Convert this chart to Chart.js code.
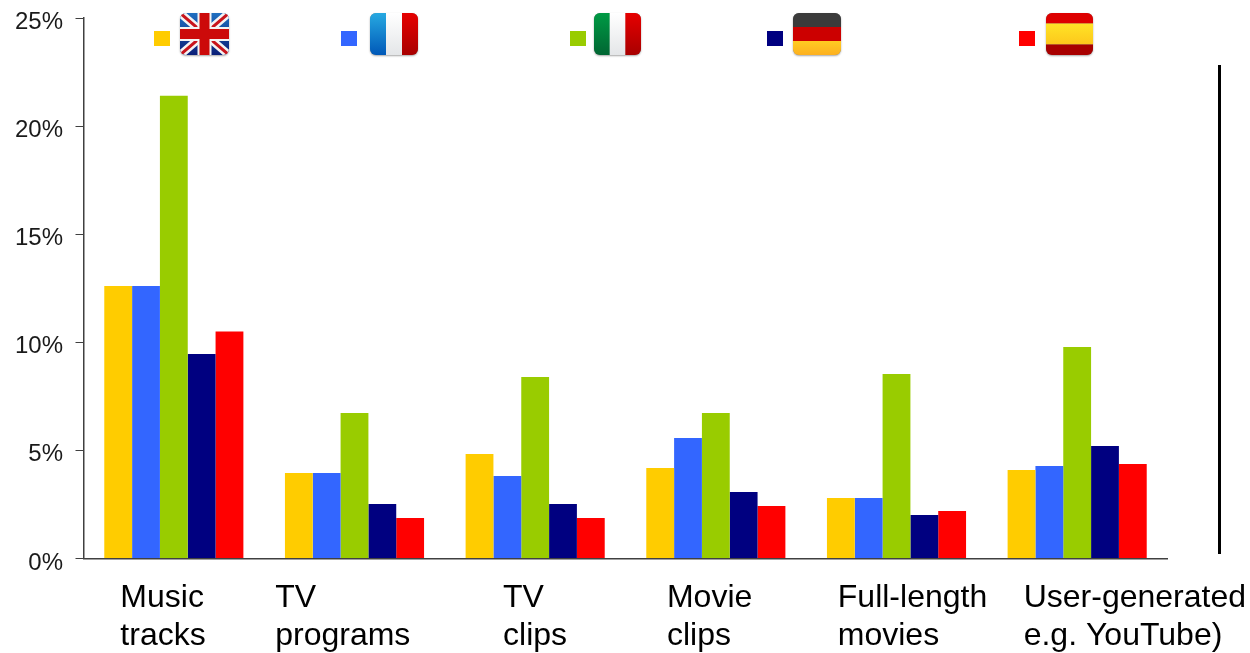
<!DOCTYPE html>
<html lang="en">
<head>
<meta charset="UTF-8">
<title>Online media by country</title>
<script src="https://cdn.jsdelivr.net/npm/chart.js"></script>
<style>
  html, body { margin: 0; padding: 0; background: #fff; }
  canvas { display: block; }
</style>
</head>
<body>
<canvas id="myChart" width="1250" height="653"></canvas>
<script>
// values, in percent
var categories = [['Music', 'tracks'], ['TV', 'programs'], ['TV', 'clips'], ['Movie', 'clips'], ['Full-length', 'movies'], ['User-generated', 'e.g. YouTube)']];
var uk = [12.6, 3.95, 4.83, 4.19, 2.8, 4.09];
var france = [12.6, 3.95, 3.82, 5.57, 2.8, 4.28];
var italy = [21.4, 6.73, 8.4, 6.73, 8.53, 9.78];
var germany = [9.46, 2.52, 2.52, 3.08, 2.01, 5.2];
var spain = [10.5, 1.87, 1.87, 2.43, 2.2, 4.37];

var FONT = '"Liberation Sans", Arial, sans-serif';

// the category labels are left aligned and do not sit centred under the groups
var labelShift = [-53.5, -79.3, -32.1, -48.9, -58.7, -53.5];

function roundPath(ctx, x, y, w, h, r) {
    ctx.beginPath();
    ctx.roundRect(x, y, w, h, r);
}

function vGrad(ctx, y, h, c1, c2) {
    var g = ctx.createLinearGradient(0, y, 0, y + h);
    g.addColorStop(0, c1);
    g.addColorStop(1, c2);
    return g;
}

function drawStripesV(ctx, x, y, w, h, cols) {
    cols.forEach(function(c, i) {
        ctx.fillStyle = vGrad(ctx, y, h, c[0], c[1]);
        ctx.fillRect(x + i * w / 3, y, w / 3 + 0.5, h);
    });
}

function drawUK(ctx, x, y, w, h) {
    ctx.fillStyle = vGrad(ctx, y, h, '#1f6fc0', '#0a1f78');
    ctx.fillRect(x, y, w, h);
    function diag(color, lw) {
        ctx.strokeStyle = color;
        ctx.lineWidth = lw;
        ctx.beginPath();
        ctx.moveTo(x, y); ctx.lineTo(x + w, y + h);
        ctx.moveTo(x + w, y); ctx.lineTo(x, y + h);
        ctx.stroke();
    }
    diag('#f4f4f4', 8);
    diag('#c8141c', 3);
    ctx.fillStyle = '#f4f4f4';
    ctx.fillRect(x + w / 2 - 7, y, 14, h);
    ctx.fillRect(x, y + h / 2 - 7, w, 14);
    ctx.fillStyle = '#cc0a0a';
    ctx.fillRect(x + w / 2 - 5, y, 10, h);
    ctx.fillRect(x, y + h / 2 - 5, w, 10);
}

function drawFrance(ctx, x, y, w, h) {
    drawStripesV(ctx, x, y, w, h, [['#27a9e1', '#0058b8'], ['#ffffff', '#e4e6e8'], ['#e60000', '#a80000']]);
}

function drawItaly(ctx, x, y, w, h) {
    drawStripesV(ctx, x, y, w, h, [['#009a44', '#006633'], ['#ffffff', '#e4e6e8'], ['#e60000', '#a80000']]);
}

function drawGermany(ctx, x, y, w, h) {
    ctx.fillStyle = '#3b3b3b';
    ctx.fillRect(x, y, w, h / 3);
    ctx.fillStyle = '#cc0000';
    ctx.fillRect(x, y + h / 3, w, h / 3);
    ctx.fillStyle = vGrad(ctx, y + 2 * h / 3, h / 3, '#ffcc22', '#fdb020');
    ctx.fillRect(x, y + 2 * h / 3, w, h / 3);
}

function drawSpain(ctx, x, y, w, h) {
    ctx.fillStyle = '#dd0000';
    ctx.fillRect(x, y, w, h / 4);
    ctx.fillStyle = vGrad(ctx, y + h / 4, h / 2, '#ffe426', '#fdc71c');
    ctx.fillRect(x, y + h / 4, w, h / 2);
    ctx.fillStyle = '#a80000';
    ctx.fillRect(x, y + 3 * h / 4, w, h / 4);
}

var legendItems = [
    { box: 154, flag: 180, w: 49, draw: drawUK },
    { box: 341, flag: 370, w: 48, draw: drawFrance },
    { box: 570, flag: 594, w: 47, draw: drawItaly },
    { box: 767, flag: 793, w: 48, draw: drawGermany },
    { box: 1019, flag: 1046, w: 47, draw: drawSpain }
];

var decorations = {
    id: 'decorations',
    afterDraw: function(chart) {
        var ctx = chart.ctx;
        var xScale = chart.scales.x;
        var yScale = chart.scales.y;
        ctx.save();

        // y tick labels sit a little under their tick marks
        ctx.font = '24px ' + FONT;
        ctx.fillStyle = '#1a1a1a';
        ctx.textAlign = 'right';
        ctx.textBaseline = 'alphabetic';
        yScale.ticks.forEach(function(t) {
            ctx.fillText(t.value + '%', 63, yScale.getPixelForValue(t.value) + 11);
        });

        // category labels
        ctx.font = '32px ' + FONT;
        ctx.fillStyle = '#000';
        ctx.textAlign = 'left';
        categories.forEach(function(lines, i) {
            var x = xScale.getPixelForValue(i) + labelShift[i];
            ctx.fillText(lines[0], x, 607);
            ctx.fillText(lines[1], x, 645);
        });

        // legend: colour box + flag
        legendItems.forEach(function(item, i) {
            ctx.fillStyle = chart.data.datasets[i].backgroundColor;
            ctx.fillRect(item.box, 31, 16, 15);
            // soft shadow under the flag
            ctx.save();
            ctx.shadowColor = 'rgba(0,0,0,0.35)';
            ctx.shadowBlur = 2;
            ctx.shadowOffsetY = 1;
            ctx.fillStyle = '#888';
            roundPath(ctx, item.flag, 13, item.w, 42, 6);
            ctx.fill();
            ctx.restore();
            ctx.save();
            roundPath(ctx, item.flag, 13, item.w, 42, 6);
            ctx.clip();
            item.draw(ctx, item.flag, 13, item.w, 42);
            ctx.restore();
        });

        // black vertical rule on the right
        ctx.fillStyle = '#000';
        ctx.fillRect(1218, 65, 3, 489);
        ctx.restore();
    }
};

var ctx = document.getElementById('myChart').getContext('2d');
var myChart = new Chart(ctx, {
    type: 'bar',
    data: {
        labels: categories,
        datasets: [
            { label: 'UK', data: uk, backgroundColor: '#FFCC00' },
            { label: 'France', data: france, backgroundColor: '#3366FF' },
            { label: 'Italy', data: italy, backgroundColor: '#99CC00' },
            { label: 'Germany', data: germany, backgroundColor: '#000080' },
            { label: 'Spain', data: spain, backgroundColor: '#FF0000' }
        ]
    },
    options: {
        responsive: false,
        devicePixelRatio: 1,
        animation: false,
        layout: { padding: { top: 18, right: 82.5, left: 0, bottom: 0 } },
        datasets: { bar: { categoryPercentage: 0.77, barPercentage: 1 } },
        plugins: {
            legend: { display: false },
            tooltip: { enabled: false }
        },
        scales: {
            x: {
                grid: { display: false },
                border: { color: '#404040', width: 1.5 },
                ticks: { display: false },
                afterFit: function(scale) { scale.height = 653 - 558.5; }
            },
            y: {
                min: 0,
                max: 25,
                grid: { drawOnChartArea: false, color: '#404040', tickLength: 8, lineWidth: 1 },
                border: { color: '#404040', width: 1.5 },
                ticks: { display: false, stepSize: 5 },
                afterFit: function(scale) { scale.width = 83.5; }
            }
        }
    },
    plugins: [decorations]
});
</script>
</body>
</html>
